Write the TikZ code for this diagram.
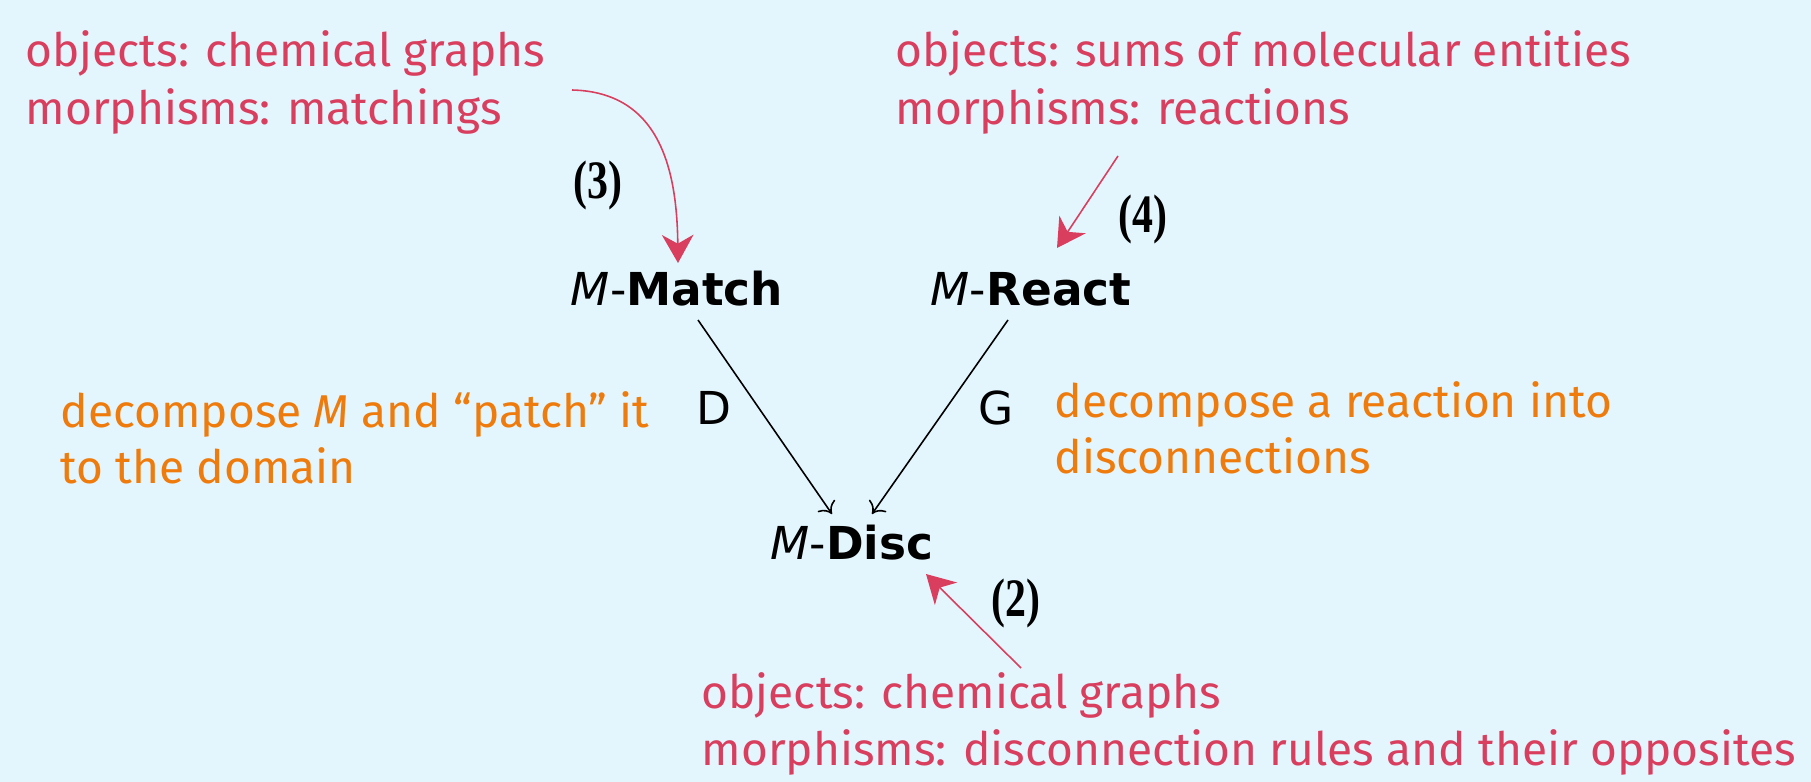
\documentclass[tikz,border=0pt]{standalone}
\usepackage{fontspec}
\usetikzlibrary{arrows.meta}
\newfontfamily\dv{DejaVu Sans}
\newfontfamily\hand{Fira Sans}
\newfontfamily\numf{Liberation Serif}
\definecolor{bgc}{HTML}{E4F6FD}
\definecolor{redc}{HTML}{D93E5E}
\definecolor{orc}{HTML}{EE7B0C}
\newcommand{\numtxt}[1]{\scalebox{0.85}[1.1]{\numf\bfseries\fontsize{14}{16}\selectfont #1}}
\tikzset{
  handred/.style={font=\hand\fontsize{13.1}{16}\selectfont, text=redc, anchor=base west, inner sep=0pt},
  handor/.style={font=\hand\fontsize{13.1}{16}\selectfont, text=orc, anchor=base west, inner sep=0pt},
  obj/.style={font=\dv\fontsize{12.9}{15}\selectfont, inner sep=2pt},
  lbl/.style={font=\dv\fontsize{12.9}{15}\selectfont, inner sep=0pt},
  num/.style={inner sep=0pt},
  redarrow/.style={draw=redc, line width=0.45pt, -{Stealth[length=8pt,width=9pt,inset=2.5pt,fill=redc]}},
  blackarrow/.style={draw=black, line width=0.45pt, -{To[length=3pt,width=6pt]}}
}
\begin{document}
\begin{tikzpicture}[x=0.01cm,y=-0.01cm]
\path[fill=bgc,use as bounding box] (0,0) rectangle (1811,782);
% objects
\node[obj] (match) at (677,289) {{\itshape M}-\textbf{Match}};
\node[obj] (react) at (1031,289) {{\itshape M}-\textbf{React}};
\node[obj] (disc) at (852,543) {{\itshape M}-\textbf{Disc}};
% black arrows
\coordinate (mS) at (698,320);
\coordinate (mE) at (832,514);
\coordinate (rS) at (1008,320);
\coordinate (rE) at (872,514);
\draw[blackarrow] (mS) -- (mE);
\draw[blackarrow] (rS) -- (rE);
\node[lbl] (D) at (714,408) {D};
\node[lbl] (G) at (996,408) {G};
% annotations
\node[handred] (tl1) at (25,67) {objects: chemical graphs};
\node[handred] (tl2) at (25,125) {morphisms: matchings};
\node[handred] (tr1) at (895,67) {objects: sums of molecular entities};
\node[handred] (tr2) at (895,125) {morphisms: reactions};
\node[handred] (b1) at (701,708) {objects: chemical graphs};
\node[handred] (b2) at (701,765) {morphisms: disconnection rules and their opposites};
\node[handor] (ol1) at (60,427) {decompose \textit{M} and “patch” it};
\node[handor] (ol2) at (60,483) {to the domain};
\node[handor] (or1) at (1054,418) {decompose a reaction into};
\node[handor] (or2) at (1054,474) {disconnections};
% numbers
\node[num] (n3) at (598,185) {\numtxt{(3)}};
\node[num] (n4) at (1143,219) {\numtxt{(4)}};
\node[num] (n2) at (1016,603) {\numtxt{(2)}};
% red arrows
\coordinate (c3s) at (572,90);
\coordinate (c3e) at (678,263);
\draw[redarrow] (c3s) .. controls (660,92) and (677,170) .. (c3e);
\coordinate (c4s) at (1118,156);
\coordinate (c4e) at (1057,248);
\draw[redarrow] (c4s) -- (c4e);
\coordinate (c2s) at (1021,668);
\coordinate (c2e) at (926,574);
\draw[redarrow] (c2s) -- (c2e);
\end{tikzpicture}
\end{document}
